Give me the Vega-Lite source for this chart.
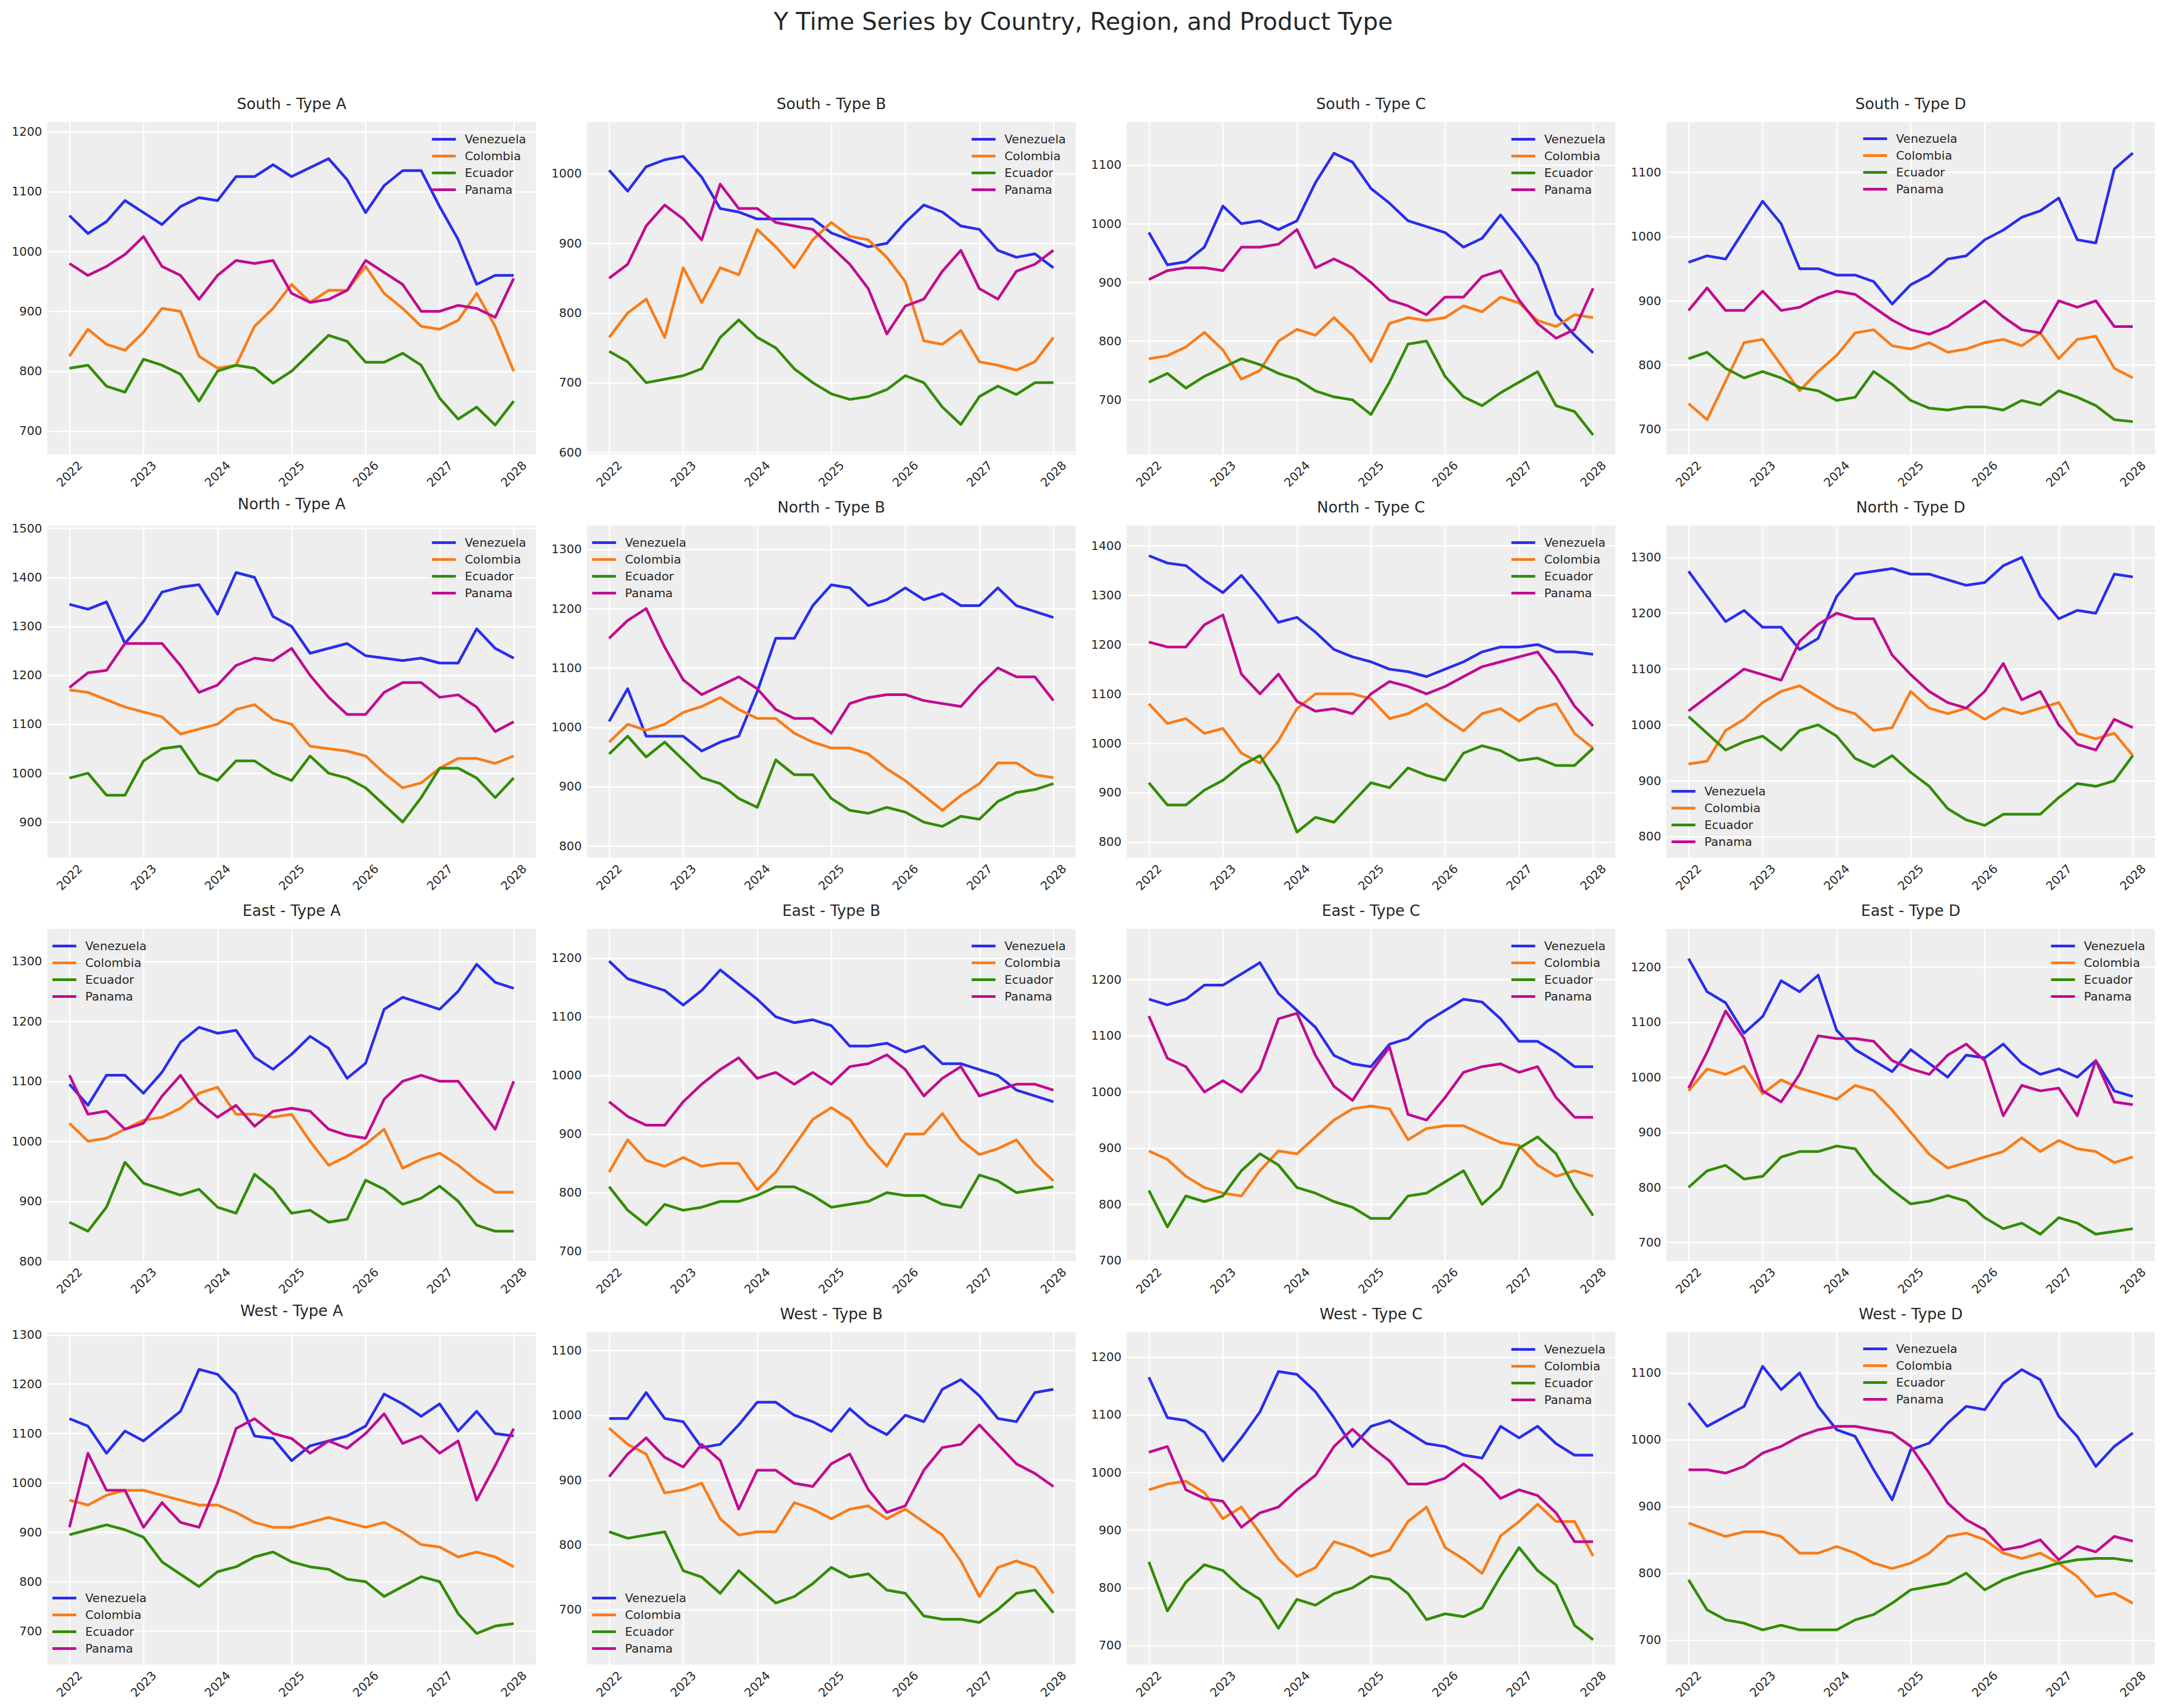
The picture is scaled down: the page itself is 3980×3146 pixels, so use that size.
{
  "$schema": "https://vega.github.io/schema/vega-lite/v6.json",
  "background": "white",
  "padding": {"left": 21, "top": 20, "right": 8, "bottom": 8},
  "title": {"text": "Y Time Series by Country, Region, and Product Type", "fontSize": 44, "fontWeight": "normal", "color": "#262626", "anchor": "middle", "frame": "bounds", "baseline": "alphabetic", "offset": 80, "font": "DejaVu Sans"},
  "columns": 4,
  "bounds": "flush",
  "spacing": {"row": 131, "column": 94},
  "resolve": {"scale": {"y": "independent"}, "legend": {"color": "independent"}},
  "config": {
    "font": "DejaVu Sans",
    "view": {"fill": "#eeeeee", "stroke": null, "continuousWidth": 900, "continuousHeight": 612},
    "axis": {"grid": true, "gridColor": "#ffffff", "gridWidth": 2.5, "domain": false, "ticks": false, "labelFontSize": 22, "labelColor": "#262626", "labelFont": "DejaVu Sans", "title": null, "labelFlush": false, "labelOverlap": false, "labelBound": false},
    "axisX": {"labelAngle": -45, "labelAlign": "center", "labelBaseline": "middle", "labelPadding": 36},
    "axisY": {"labelPadding": 10},
    "title": {"fontSize": 28, "fontWeight": "normal", "color": "#262626", "baseline": "alphabetic", "offset": 18, "frame": "group", "anchor": "middle"},
    "legend": {"labelFontSize": 22, "labelColor": "#262626", "labelFont": "DejaVu Sans", "symbolType": "M-2,0H2", "symbolSize": 484, "symbolStrokeWidth": 5.5, "rowPadding": 6, "labelOffset": 25, "offset": 18, "padding": 0, "labelLimit": 400},
    "line": {"strokeWidth": 5, "strokeJoin": "round"}
  },
  "datasets": {
    "SA": [
      {"c":"V","t":2022,"y":1060},{"c":"V","t":2022.25,"y":1030},{"c":"V","t":2022.5,"y":1050},{"c":"V","t":2022.75,"y":1085},{"c":"V","t":2023,"y":1065},{"c":"V","t":2023.25,"y":1045},{"c":"V","t":2023.5,"y":1075},{"c":"V","t":2023.75,"y":1090},{"c":"V","t":2024,"y":1085},{"c":"V","t":2024.25,"y":1125},{"c":"V","t":2024.5,"y":1125},{"c":"V","t":2024.75,"y":1145},{"c":"V","t":2025,"y":1125},{"c":"V","t":2025.25,"y":1140},{"c":"V","t":2025.5,"y":1155},{"c":"V","t":2025.75,"y":1120},{"c":"V","t":2026,"y":1065},{"c":"V","t":2026.25,"y":1110},{"c":"V","t":2026.5,"y":1135},{"c":"V","t":2026.75,"y":1135},{"c":"V","t":2027,"y":1075},{"c":"V","t":2027.25,"y":1020},{"c":"V","t":2027.5,"y":945},{"c":"V","t":2027.75,"y":960},{"c":"V","t":2028,"y":960},
      {"c":"C","t":2022,"y":825},{"c":"C","t":2022.25,"y":870},{"c":"C","t":2022.5,"y":845},{"c":"C","t":2022.75,"y":835},{"c":"C","t":2023,"y":865},{"c":"C","t":2023.25,"y":905},{"c":"C","t":2023.5,"y":900},{"c":"C","t":2023.75,"y":825},{"c":"C","t":2024,"y":805},{"c":"C","t":2024.25,"y":810},{"c":"C","t":2024.5,"y":875},{"c":"C","t":2024.75,"y":905},{"c":"C","t":2025,"y":945},{"c":"C","t":2025.25,"y":915},{"c":"C","t":2025.5,"y":935},{"c":"C","t":2025.75,"y":935},{"c":"C","t":2026,"y":975},{"c":"C","t":2026.25,"y":930},{"c":"C","t":2026.5,"y":905},{"c":"C","t":2026.75,"y":875},{"c":"C","t":2027,"y":870},{"c":"C","t":2027.25,"y":885},{"c":"C","t":2027.5,"y":930},{"c":"C","t":2027.75,"y":875},{"c":"C","t":2028,"y":800},
      {"c":"E","t":2022,"y":805},{"c":"E","t":2022.25,"y":810},{"c":"E","t":2022.5,"y":775},{"c":"E","t":2022.75,"y":765},{"c":"E","t":2023,"y":820},{"c":"E","t":2023.25,"y":810},{"c":"E","t":2023.5,"y":795},{"c":"E","t":2023.75,"y":750},{"c":"E","t":2024,"y":800},{"c":"E","t":2024.25,"y":810},{"c":"E","t":2024.5,"y":805},{"c":"E","t":2024.75,"y":780},{"c":"E","t":2025,"y":800},{"c":"E","t":2025.25,"y":830},{"c":"E","t":2025.5,"y":860},{"c":"E","t":2025.75,"y":850},{"c":"E","t":2026,"y":815},{"c":"E","t":2026.25,"y":815},{"c":"E","t":2026.5,"y":830},{"c":"E","t":2026.75,"y":810},{"c":"E","t":2027,"y":755},{"c":"E","t":2027.25,"y":720},{"c":"E","t":2027.5,"y":740},{"c":"E","t":2027.75,"y":710},{"c":"E","t":2028,"y":750},
      {"c":"P","t":2022,"y":980},{"c":"P","t":2022.25,"y":960},{"c":"P","t":2022.5,"y":975},{"c":"P","t":2022.75,"y":995},{"c":"P","t":2023,"y":1025},{"c":"P","t":2023.25,"y":975},{"c":"P","t":2023.5,"y":960},{"c":"P","t":2023.75,"y":920},{"c":"P","t":2024,"y":960},{"c":"P","t":2024.25,"y":985},{"c":"P","t":2024.5,"y":980},{"c":"P","t":2024.75,"y":985},{"c":"P","t":2025,"y":930},{"c":"P","t":2025.25,"y":915},{"c":"P","t":2025.5,"y":920},{"c":"P","t":2025.75,"y":935},{"c":"P","t":2026,"y":985},{"c":"P","t":2026.25,"y":965},{"c":"P","t":2026.5,"y":945},{"c":"P","t":2026.75,"y":900},{"c":"P","t":2027,"y":900},{"c":"P","t":2027.25,"y":910},{"c":"P","t":2027.5,"y":905},{"c":"P","t":2027.75,"y":890},{"c":"P","t":2028,"y":955}
    ],
    "SB": [
      {"c":"V","t":2022,"y":1005},{"c":"V","t":2022.25,"y":975},{"c":"V","t":2022.5,"y":1010},{"c":"V","t":2022.75,"y":1020},{"c":"V","t":2023,"y":1025},{"c":"V","t":2023.25,"y":995},{"c":"V","t":2023.5,"y":950},{"c":"V","t":2023.75,"y":945},{"c":"V","t":2024,"y":935},{"c":"V","t":2024.25,"y":935},{"c":"V","t":2024.5,"y":935},{"c":"V","t":2024.75,"y":935},{"c":"V","t":2025,"y":915},{"c":"V","t":2025.25,"y":905},{"c":"V","t":2025.5,"y":895},{"c":"V","t":2025.75,"y":900},{"c":"V","t":2026,"y":930},{"c":"V","t":2026.25,"y":955},{"c":"V","t":2026.5,"y":945},{"c":"V","t":2026.75,"y":925},{"c":"V","t":2027,"y":920},{"c":"V","t":2027.25,"y":890},{"c":"V","t":2027.5,"y":880},{"c":"V","t":2027.75,"y":885},{"c":"V","t":2028,"y":865},
      {"c":"C","t":2022,"y":765},{"c":"C","t":2022.25,"y":800},{"c":"C","t":2022.5,"y":820},{"c":"C","t":2022.75,"y":765},{"c":"C","t":2023,"y":865},{"c":"C","t":2023.25,"y":815},{"c":"C","t":2023.5,"y":865},{"c":"C","t":2023.75,"y":855},{"c":"C","t":2024,"y":920},{"c":"C","t":2024.25,"y":895},{"c":"C","t":2024.5,"y":865},{"c":"C","t":2024.75,"y":905},{"c":"C","t":2025,"y":930},{"c":"C","t":2025.25,"y":910},{"c":"C","t":2025.5,"y":905},{"c":"C","t":2025.75,"y":880},{"c":"C","t":2026,"y":845},{"c":"C","t":2026.25,"y":760},{"c":"C","t":2026.5,"y":755},{"c":"C","t":2026.75,"y":775},{"c":"C","t":2027,"y":730},{"c":"C","t":2027.25,"y":725},{"c":"C","t":2027.5,"y":718},{"c":"C","t":2027.75,"y":730},{"c":"C","t":2028,"y":765},
      {"c":"E","t":2022,"y":745},{"c":"E","t":2022.25,"y":730},{"c":"E","t":2022.5,"y":700},{"c":"E","t":2022.75,"y":705},{"c":"E","t":2023,"y":710},{"c":"E","t":2023.25,"y":720},{"c":"E","t":2023.5,"y":765},{"c":"E","t":2023.75,"y":790},{"c":"E","t":2024,"y":765},{"c":"E","t":2024.25,"y":750},{"c":"E","t":2024.5,"y":720},{"c":"E","t":2024.75,"y":700},{"c":"E","t":2025,"y":684},{"c":"E","t":2025.25,"y":676},{"c":"E","t":2025.5,"y":680},{"c":"E","t":2025.75,"y":690},{"c":"E","t":2026,"y":710},{"c":"E","t":2026.25,"y":700},{"c":"E","t":2026.5,"y":665},{"c":"E","t":2026.75,"y":640},{"c":"E","t":2027,"y":680},{"c":"E","t":2027.25,"y":695},{"c":"E","t":2027.5,"y":683},{"c":"E","t":2027.75,"y":700},{"c":"E","t":2028,"y":700},
      {"c":"P","t":2022,"y":850},{"c":"P","t":2022.25,"y":870},{"c":"P","t":2022.5,"y":925},{"c":"P","t":2022.75,"y":955},{"c":"P","t":2023,"y":935},{"c":"P","t":2023.25,"y":905},{"c":"P","t":2023.5,"y":985},{"c":"P","t":2023.75,"y":950},{"c":"P","t":2024,"y":950},{"c":"P","t":2024.25,"y":930},{"c":"P","t":2024.5,"y":925},{"c":"P","t":2024.75,"y":920},{"c":"P","t":2025,"y":895},{"c":"P","t":2025.25,"y":870},{"c":"P","t":2025.5,"y":835},{"c":"P","t":2025.75,"y":770},{"c":"P","t":2026,"y":810},{"c":"P","t":2026.25,"y":820},{"c":"P","t":2026.5,"y":860},{"c":"P","t":2026.75,"y":890},{"c":"P","t":2027,"y":835},{"c":"P","t":2027.25,"y":820},{"c":"P","t":2027.5,"y":860},{"c":"P","t":2027.75,"y":870},{"c":"P","t":2028,"y":890}
    ],
    "SC": [
      {"c":"V","t":2022,"y":985},{"c":"V","t":2022.25,"y":930},{"c":"V","t":2022.5,"y":935},{"c":"V","t":2022.75,"y":960},{"c":"V","t":2023,"y":1030},{"c":"V","t":2023.25,"y":1000},{"c":"V","t":2023.5,"y":1005},{"c":"V","t":2023.75,"y":990},{"c":"V","t":2024,"y":1005},{"c":"V","t":2024.25,"y":1070},{"c":"V","t":2024.5,"y":1120},{"c":"V","t":2024.75,"y":1105},{"c":"V","t":2025,"y":1060},{"c":"V","t":2025.25,"y":1035},{"c":"V","t":2025.5,"y":1005},{"c":"V","t":2025.75,"y":995},{"c":"V","t":2026,"y":985},{"c":"V","t":2026.25,"y":960},{"c":"V","t":2026.5,"y":975},{"c":"V","t":2026.75,"y":1015},{"c":"V","t":2027,"y":975},{"c":"V","t":2027.25,"y":930},{"c":"V","t":2027.5,"y":845},{"c":"V","t":2027.75,"y":810},{"c":"V","t":2028,"y":780},
      {"c":"C","t":2022,"y":770},{"c":"C","t":2022.25,"y":775},{"c":"C","t":2022.5,"y":790},{"c":"C","t":2022.75,"y":815},{"c":"C","t":2023,"y":785},{"c":"C","t":2023.25,"y":735},{"c":"C","t":2023.5,"y":750},{"c":"C","t":2023.75,"y":800},{"c":"C","t":2024,"y":820},{"c":"C","t":2024.25,"y":810},{"c":"C","t":2024.5,"y":840},{"c":"C","t":2024.75,"y":810},{"c":"C","t":2025,"y":765},{"c":"C","t":2025.25,"y":830},{"c":"C","t":2025.5,"y":840},{"c":"C","t":2025.75,"y":835},{"c":"C","t":2026,"y":840},{"c":"C","t":2026.25,"y":860},{"c":"C","t":2026.5,"y":850},{"c":"C","t":2026.75,"y":875},{"c":"C","t":2027,"y":865},{"c":"C","t":2027.25,"y":835},{"c":"C","t":2027.5,"y":825},{"c":"C","t":2027.75,"y":845},{"c":"C","t":2028,"y":840},
      {"c":"E","t":2022,"y":730},{"c":"E","t":2022.25,"y":745},{"c":"E","t":2022.5,"y":720},{"c":"E","t":2022.75,"y":740},{"c":"E","t":2023,"y":755},{"c":"E","t":2023.25,"y":770},{"c":"E","t":2023.5,"y":760},{"c":"E","t":2023.75,"y":745},{"c":"E","t":2024,"y":735},{"c":"E","t":2024.25,"y":715},{"c":"E","t":2024.5,"y":705},{"c":"E","t":2024.75,"y":700},{"c":"E","t":2025,"y":675},{"c":"E","t":2025.25,"y":730},{"c":"E","t":2025.5,"y":795},{"c":"E","t":2025.75,"y":800},{"c":"E","t":2026,"y":740},{"c":"E","t":2026.25,"y":705},{"c":"E","t":2026.5,"y":690},{"c":"E","t":2026.75,"y":712},{"c":"E","t":2027,"y":730},{"c":"E","t":2027.25,"y":748},{"c":"E","t":2027.5,"y":690},{"c":"E","t":2027.75,"y":680},{"c":"E","t":2028,"y":640},
      {"c":"P","t":2022,"y":905},{"c":"P","t":2022.25,"y":920},{"c":"P","t":2022.5,"y":925},{"c":"P","t":2022.75,"y":925},{"c":"P","t":2023,"y":920},{"c":"P","t":2023.25,"y":960},{"c":"P","t":2023.5,"y":960},{"c":"P","t":2023.75,"y":965},{"c":"P","t":2024,"y":990},{"c":"P","t":2024.25,"y":925},{"c":"P","t":2024.5,"y":940},{"c":"P","t":2024.75,"y":925},{"c":"P","t":2025,"y":900},{"c":"P","t":2025.25,"y":870},{"c":"P","t":2025.5,"y":860},{"c":"P","t":2025.75,"y":845},{"c":"P","t":2026,"y":875},{"c":"P","t":2026.25,"y":875},{"c":"P","t":2026.5,"y":910},{"c":"P","t":2026.75,"y":920},{"c":"P","t":2027,"y":870},{"c":"P","t":2027.25,"y":830},{"c":"P","t":2027.5,"y":805},{"c":"P","t":2027.75,"y":820},{"c":"P","t":2028,"y":890}
    ],
    "SD": [
      {"c":"V","t":2022,"y":960},{"c":"V","t":2022.25,"y":970},{"c":"V","t":2022.5,"y":965},{"c":"V","t":2022.75,"y":1010},{"c":"V","t":2023,"y":1055},{"c":"V","t":2023.25,"y":1020},{"c":"V","t":2023.5,"y":950},{"c":"V","t":2023.75,"y":950},{"c":"V","t":2024,"y":940},{"c":"V","t":2024.25,"y":940},{"c":"V","t":2024.5,"y":930},{"c":"V","t":2024.75,"y":895},{"c":"V","t":2025,"y":925},{"c":"V","t":2025.25,"y":940},{"c":"V","t":2025.5,"y":965},{"c":"V","t":2025.75,"y":970},{"c":"V","t":2026,"y":995},{"c":"V","t":2026.25,"y":1010},{"c":"V","t":2026.5,"y":1030},{"c":"V","t":2026.75,"y":1040},{"c":"V","t":2027,"y":1060},{"c":"V","t":2027.25,"y":995},{"c":"V","t":2027.5,"y":990},{"c":"V","t":2027.75,"y":1105},{"c":"V","t":2028,"y":1130},
      {"c":"C","t":2022,"y":740},{"c":"C","t":2022.25,"y":715},{"c":"C","t":2022.5,"y":775},{"c":"C","t":2022.75,"y":835},{"c":"C","t":2023,"y":840},{"c":"C","t":2023.25,"y":800},{"c":"C","t":2023.5,"y":760},{"c":"C","t":2023.75,"y":790},{"c":"C","t":2024,"y":815},{"c":"C","t":2024.25,"y":850},{"c":"C","t":2024.5,"y":855},{"c":"C","t":2024.75,"y":830},{"c":"C","t":2025,"y":825},{"c":"C","t":2025.25,"y":835},{"c":"C","t":2025.5,"y":820},{"c":"C","t":2025.75,"y":825},{"c":"C","t":2026,"y":835},{"c":"C","t":2026.25,"y":840},{"c":"C","t":2026.5,"y":830},{"c":"C","t":2026.75,"y":850},{"c":"C","t":2027,"y":810},{"c":"C","t":2027.25,"y":840},{"c":"C","t":2027.5,"y":845},{"c":"C","t":2027.75,"y":795},{"c":"C","t":2028,"y":780},
      {"c":"E","t":2022,"y":810},{"c":"E","t":2022.25,"y":820},{"c":"E","t":2022.5,"y":795},{"c":"E","t":2022.75,"y":780},{"c":"E","t":2023,"y":790},{"c":"E","t":2023.25,"y":780},{"c":"E","t":2023.5,"y":765},{"c":"E","t":2023.75,"y":760},{"c":"E","t":2024,"y":745},{"c":"E","t":2024.25,"y":750},{"c":"E","t":2024.5,"y":790},{"c":"E","t":2024.75,"y":770},{"c":"E","t":2025,"y":745},{"c":"E","t":2025.25,"y":733},{"c":"E","t":2025.5,"y":730},{"c":"E","t":2025.75,"y":735},{"c":"E","t":2026,"y":735},{"c":"E","t":2026.25,"y":730},{"c":"E","t":2026.5,"y":745},{"c":"E","t":2026.75,"y":738},{"c":"E","t":2027,"y":760},{"c":"E","t":2027.25,"y":750},{"c":"E","t":2027.5,"y":737},{"c":"E","t":2027.75,"y":715},{"c":"E","t":2028,"y":712},
      {"c":"P","t":2022,"y":885},{"c":"P","t":2022.25,"y":920},{"c":"P","t":2022.5,"y":885},{"c":"P","t":2022.75,"y":885},{"c":"P","t":2023,"y":915},{"c":"P","t":2023.25,"y":885},{"c":"P","t":2023.5,"y":890},{"c":"P","t":2023.75,"y":905},{"c":"P","t":2024,"y":915},{"c":"P","t":2024.25,"y":910},{"c":"P","t":2024.5,"y":890},{"c":"P","t":2024.75,"y":870},{"c":"P","t":2025,"y":855},{"c":"P","t":2025.25,"y":848},{"c":"P","t":2025.5,"y":860},{"c":"P","t":2025.75,"y":880},{"c":"P","t":2026,"y":900},{"c":"P","t":2026.25,"y":875},{"c":"P","t":2026.5,"y":855},{"c":"P","t":2026.75,"y":850},{"c":"P","t":2027,"y":900},{"c":"P","t":2027.25,"y":890},{"c":"P","t":2027.5,"y":900},{"c":"P","t":2027.75,"y":860},{"c":"P","t":2028,"y":860}
    ],
    "NA": [
      {"c":"V","t":2022,"y":1345},{"c":"V","t":2022.25,"y":1335},{"c":"V","t":2022.5,"y":1350},{"c":"V","t":2022.75,"y":1265},{"c":"V","t":2023,"y":1310},{"c":"V","t":2023.25,"y":1370},{"c":"V","t":2023.5,"y":1380},{"c":"V","t":2023.75,"y":1385},{"c":"V","t":2024,"y":1325},{"c":"V","t":2024.25,"y":1410},{"c":"V","t":2024.5,"y":1400},{"c":"V","t":2024.75,"y":1320},{"c":"V","t":2025,"y":1300},{"c":"V","t":2025.25,"y":1245},{"c":"V","t":2025.5,"y":1255},{"c":"V","t":2025.75,"y":1265},{"c":"V","t":2026,"y":1240},{"c":"V","t":2026.25,"y":1235},{"c":"V","t":2026.5,"y":1230},{"c":"V","t":2026.75,"y":1235},{"c":"V","t":2027,"y":1225},{"c":"V","t":2027.25,"y":1225},{"c":"V","t":2027.5,"y":1295},{"c":"V","t":2027.75,"y":1255},{"c":"V","t":2028,"y":1235},
      {"c":"C","t":2022,"y":1170},{"c":"C","t":2022.25,"y":1165},{"c":"C","t":2022.5,"y":1150},{"c":"C","t":2022.75,"y":1135},{"c":"C","t":2023,"y":1125},{"c":"C","t":2023.25,"y":1115},{"c":"C","t":2023.5,"y":1080},{"c":"C","t":2023.75,"y":1090},{"c":"C","t":2024,"y":1100},{"c":"C","t":2024.25,"y":1130},{"c":"C","t":2024.5,"y":1140},{"c":"C","t":2024.75,"y":1110},{"c":"C","t":2025,"y":1100},{"c":"C","t":2025.25,"y":1055},{"c":"C","t":2025.5,"y":1050},{"c":"C","t":2025.75,"y":1045},{"c":"C","t":2026,"y":1035},{"c":"C","t":2026.25,"y":1000},{"c":"C","t":2026.5,"y":970},{"c":"C","t":2026.75,"y":980},{"c":"C","t":2027,"y":1010},{"c":"C","t":2027.25,"y":1030},{"c":"C","t":2027.5,"y":1030},{"c":"C","t":2027.75,"y":1020},{"c":"C","t":2028,"y":1035},
      {"c":"E","t":2022,"y":990},{"c":"E","t":2022.25,"y":1000},{"c":"E","t":2022.5,"y":955},{"c":"E","t":2022.75,"y":955},{"c":"E","t":2023,"y":1025},{"c":"E","t":2023.25,"y":1050},{"c":"E","t":2023.5,"y":1055},{"c":"E","t":2023.75,"y":1000},{"c":"E","t":2024,"y":985},{"c":"E","t":2024.25,"y":1025},{"c":"E","t":2024.5,"y":1025},{"c":"E","t":2024.75,"y":1000},{"c":"E","t":2025,"y":985},{"c":"E","t":2025.25,"y":1035},{"c":"E","t":2025.5,"y":1000},{"c":"E","t":2025.75,"y":990},{"c":"E","t":2026,"y":970},{"c":"E","t":2026.25,"y":935},{"c":"E","t":2026.5,"y":900},{"c":"E","t":2026.75,"y":950},{"c":"E","t":2027,"y":1010},{"c":"E","t":2027.25,"y":1010},{"c":"E","t":2027.5,"y":990},{"c":"E","t":2027.75,"y":950},{"c":"E","t":2028,"y":990},
      {"c":"P","t":2022,"y":1175},{"c":"P","t":2022.25,"y":1205},{"c":"P","t":2022.5,"y":1210},{"c":"P","t":2022.75,"y":1265},{"c":"P","t":2023,"y":1265},{"c":"P","t":2023.25,"y":1265},{"c":"P","t":2023.5,"y":1220},{"c":"P","t":2023.75,"y":1165},{"c":"P","t":2024,"y":1180},{"c":"P","t":2024.25,"y":1220},{"c":"P","t":2024.5,"y":1235},{"c":"P","t":2024.75,"y":1230},{"c":"P","t":2025,"y":1255},{"c":"P","t":2025.25,"y":1200},{"c":"P","t":2025.5,"y":1155},{"c":"P","t":2025.75,"y":1120},{"c":"P","t":2026,"y":1120},{"c":"P","t":2026.25,"y":1165},{"c":"P","t":2026.5,"y":1185},{"c":"P","t":2026.75,"y":1185},{"c":"P","t":2027,"y":1155},{"c":"P","t":2027.25,"y":1160},{"c":"P","t":2027.5,"y":1135},{"c":"P","t":2027.75,"y":1085},{"c":"P","t":2028,"y":1105}
    ],
    "NB": [
      {"c":"V","t":2022,"y":1010},{"c":"V","t":2022.25,"y":1065},{"c":"V","t":2022.5,"y":985},{"c":"V","t":2022.75,"y":985},{"c":"V","t":2023,"y":985},{"c":"V","t":2023.25,"y":960},{"c":"V","t":2023.5,"y":975},{"c":"V","t":2023.75,"y":985},{"c":"V","t":2024,"y":1060},{"c":"V","t":2024.25,"y":1150},{"c":"V","t":2024.5,"y":1150},{"c":"V","t":2024.75,"y":1205},{"c":"V","t":2025,"y":1240},{"c":"V","t":2025.25,"y":1235},{"c":"V","t":2025.5,"y":1205},{"c":"V","t":2025.75,"y":1215},{"c":"V","t":2026,"y":1235},{"c":"V","t":2026.25,"y":1215},{"c":"V","t":2026.5,"y":1225},{"c":"V","t":2026.75,"y":1205},{"c":"V","t":2027,"y":1205},{"c":"V","t":2027.25,"y":1235},{"c":"V","t":2027.5,"y":1205},{"c":"V","t":2027.75,"y":1195},{"c":"V","t":2028,"y":1185},
      {"c":"C","t":2022,"y":975},{"c":"C","t":2022.25,"y":1005},{"c":"C","t":2022.5,"y":995},{"c":"C","t":2022.75,"y":1005},{"c":"C","t":2023,"y":1025},{"c":"C","t":2023.25,"y":1035},{"c":"C","t":2023.5,"y":1050},{"c":"C","t":2023.75,"y":1030},{"c":"C","t":2024,"y":1015},{"c":"C","t":2024.25,"y":1015},{"c":"C","t":2024.5,"y":990},{"c":"C","t":2024.75,"y":975},{"c":"C","t":2025,"y":965},{"c":"C","t":2025.25,"y":965},{"c":"C","t":2025.5,"y":955},{"c":"C","t":2025.75,"y":930},{"c":"C","t":2026,"y":910},{"c":"C","t":2026.25,"y":885},{"c":"C","t":2026.5,"y":860},{"c":"C","t":2026.75,"y":885},{"c":"C","t":2027,"y":905},{"c":"C","t":2027.25,"y":940},{"c":"C","t":2027.5,"y":940},{"c":"C","t":2027.75,"y":920},{"c":"C","t":2028,"y":915},
      {"c":"E","t":2022,"y":955},{"c":"E","t":2022.25,"y":985},{"c":"E","t":2022.5,"y":950},{"c":"E","t":2022.75,"y":975},{"c":"E","t":2023,"y":945},{"c":"E","t":2023.25,"y":915},{"c":"E","t":2023.5,"y":905},{"c":"E","t":2023.75,"y":880},{"c":"E","t":2024,"y":865},{"c":"E","t":2024.25,"y":945},{"c":"E","t":2024.5,"y":920},{"c":"E","t":2024.75,"y":920},{"c":"E","t":2025,"y":880},{"c":"E","t":2025.25,"y":860},{"c":"E","t":2025.5,"y":855},{"c":"E","t":2025.75,"y":865},{"c":"E","t":2026,"y":857},{"c":"E","t":2026.25,"y":840},{"c":"E","t":2026.5,"y":833},{"c":"E","t":2026.75,"y":850},{"c":"E","t":2027,"y":845},{"c":"E","t":2027.25,"y":875},{"c":"E","t":2027.5,"y":890},{"c":"E","t":2027.75,"y":895},{"c":"E","t":2028,"y":905},
      {"c":"P","t":2022,"y":1150},{"c":"P","t":2022.25,"y":1180},{"c":"P","t":2022.5,"y":1200},{"c":"P","t":2022.75,"y":1135},{"c":"P","t":2023,"y":1080},{"c":"P","t":2023.25,"y":1055},{"c":"P","t":2023.5,"y":1070},{"c":"P","t":2023.75,"y":1085},{"c":"P","t":2024,"y":1065},{"c":"P","t":2024.25,"y":1030},{"c":"P","t":2024.5,"y":1015},{"c":"P","t":2024.75,"y":1015},{"c":"P","t":2025,"y":990},{"c":"P","t":2025.25,"y":1040},{"c":"P","t":2025.5,"y":1050},{"c":"P","t":2025.75,"y":1055},{"c":"P","t":2026,"y":1055},{"c":"P","t":2026.25,"y":1045},{"c":"P","t":2026.5,"y":1040},{"c":"P","t":2026.75,"y":1035},{"c":"P","t":2027,"y":1070},{"c":"P","t":2027.25,"y":1100},{"c":"P","t":2027.5,"y":1085},{"c":"P","t":2027.75,"y":1085},{"c":"P","t":2028,"y":1045}
    ],
    "NC": [
      {"c":"V","t":2022,"y":1380},{"c":"V","t":2022.25,"y":1365},{"c":"V","t":2022.5,"y":1360},{"c":"V","t":2022.75,"y":1330},{"c":"V","t":2023,"y":1305},{"c":"V","t":2023.25,"y":1340},{"c":"V","t":2023.5,"y":1295},{"c":"V","t":2023.75,"y":1245},{"c":"V","t":2024,"y":1255},{"c":"V","t":2024.25,"y":1225},{"c":"V","t":2024.5,"y":1190},{"c":"V","t":2024.75,"y":1175},{"c":"V","t":2025,"y":1165},{"c":"V","t":2025.25,"y":1150},{"c":"V","t":2025.5,"y":1145},{"c":"V","t":2025.75,"y":1135},{"c":"V","t":2026,"y":1150},{"c":"V","t":2026.25,"y":1165},{"c":"V","t":2026.5,"y":1185},{"c":"V","t":2026.75,"y":1195},{"c":"V","t":2027,"y":1195},{"c":"V","t":2027.25,"y":1200},{"c":"V","t":2027.5,"y":1185},{"c":"V","t":2027.75,"y":1185},{"c":"V","t":2028,"y":1180},
      {"c":"C","t":2022,"y":1080},{"c":"C","t":2022.25,"y":1040},{"c":"C","t":2022.5,"y":1050},{"c":"C","t":2022.75,"y":1020},{"c":"C","t":2023,"y":1030},{"c":"C","t":2023.25,"y":980},{"c":"C","t":2023.5,"y":960},{"c":"C","t":2023.75,"y":1005},{"c":"C","t":2024,"y":1070},{"c":"C","t":2024.25,"y":1100},{"c":"C","t":2024.5,"y":1100},{"c":"C","t":2024.75,"y":1100},{"c":"C","t":2025,"y":1090},{"c":"C","t":2025.25,"y":1050},{"c":"C","t":2025.5,"y":1060},{"c":"C","t":2025.75,"y":1080},{"c":"C","t":2026,"y":1050},{"c":"C","t":2026.25,"y":1025},{"c":"C","t":2026.5,"y":1060},{"c":"C","t":2026.75,"y":1070},{"c":"C","t":2027,"y":1045},{"c":"C","t":2027.25,"y":1070},{"c":"C","t":2027.5,"y":1080},{"c":"C","t":2027.75,"y":1020},{"c":"C","t":2028,"y":990},
      {"c":"E","t":2022,"y":920},{"c":"E","t":2022.25,"y":875},{"c":"E","t":2022.5,"y":875},{"c":"E","t":2022.75,"y":905},{"c":"E","t":2023,"y":925},{"c":"E","t":2023.25,"y":955},{"c":"E","t":2023.5,"y":975},{"c":"E","t":2023.75,"y":915},{"c":"E","t":2024,"y":820},{"c":"E","t":2024.25,"y":850},{"c":"E","t":2024.5,"y":840},{"c":"E","t":2024.75,"y":880},{"c":"E","t":2025,"y":920},{"c":"E","t":2025.25,"y":910},{"c":"E","t":2025.5,"y":950},{"c":"E","t":2025.75,"y":935},{"c":"E","t":2026,"y":925},{"c":"E","t":2026.25,"y":980},{"c":"E","t":2026.5,"y":995},{"c":"E","t":2026.75,"y":985},{"c":"E","t":2027,"y":965},{"c":"E","t":2027.25,"y":970},{"c":"E","t":2027.5,"y":955},{"c":"E","t":2027.75,"y":955},{"c":"E","t":2028,"y":990},
      {"c":"P","t":2022,"y":1205},{"c":"P","t":2022.25,"y":1195},{"c":"P","t":2022.5,"y":1195},{"c":"P","t":2022.75,"y":1240},{"c":"P","t":2023,"y":1260},{"c":"P","t":2023.25,"y":1140},{"c":"P","t":2023.5,"y":1100},{"c":"P","t":2023.75,"y":1140},{"c":"P","t":2024,"y":1085},{"c":"P","t":2024.25,"y":1065},{"c":"P","t":2024.5,"y":1070},{"c":"P","t":2024.75,"y":1060},{"c":"P","t":2025,"y":1100},{"c":"P","t":2025.25,"y":1125},{"c":"P","t":2025.5,"y":1115},{"c":"P","t":2025.75,"y":1100},{"c":"P","t":2026,"y":1115},{"c":"P","t":2026.25,"y":1135},{"c":"P","t":2026.5,"y":1155},{"c":"P","t":2026.75,"y":1165},{"c":"P","t":2027,"y":1175},{"c":"P","t":2027.25,"y":1185},{"c":"P","t":2027.5,"y":1135},{"c":"P","t":2027.75,"y":1075},{"c":"P","t":2028,"y":1035}
    ],
    "ND": [
      {"c":"V","t":2022,"y":1275},{"c":"V","t":2022.25,"y":1230},{"c":"V","t":2022.5,"y":1185},{"c":"V","t":2022.75,"y":1205},{"c":"V","t":2023,"y":1175},{"c":"V","t":2023.25,"y":1175},{"c":"V","t":2023.5,"y":1135},{"c":"V","t":2023.75,"y":1155},{"c":"V","t":2024,"y":1230},{"c":"V","t":2024.25,"y":1270},{"c":"V","t":2024.5,"y":1275},{"c":"V","t":2024.75,"y":1280},{"c":"V","t":2025,"y":1270},{"c":"V","t":2025.25,"y":1270},{"c":"V","t":2025.5,"y":1260},{"c":"V","t":2025.75,"y":1250},{"c":"V","t":2026,"y":1255},{"c":"V","t":2026.25,"y":1285},{"c":"V","t":2026.5,"y":1300},{"c":"V","t":2026.75,"y":1230},{"c":"V","t":2027,"y":1190},{"c":"V","t":2027.25,"y":1205},{"c":"V","t":2027.5,"y":1200},{"c":"V","t":2027.75,"y":1270},{"c":"V","t":2028,"y":1265},
      {"c":"C","t":2022,"y":930},{"c":"C","t":2022.25,"y":935},{"c":"C","t":2022.5,"y":990},{"c":"C","t":2022.75,"y":1010},{"c":"C","t":2023,"y":1040},{"c":"C","t":2023.25,"y":1060},{"c":"C","t":2023.5,"y":1070},{"c":"C","t":2023.75,"y":1050},{"c":"C","t":2024,"y":1030},{"c":"C","t":2024.25,"y":1020},{"c":"C","t":2024.5,"y":990},{"c":"C","t":2024.75,"y":995},{"c":"C","t":2025,"y":1060},{"c":"C","t":2025.25,"y":1030},{"c":"C","t":2025.5,"y":1020},{"c":"C","t":2025.75,"y":1030},{"c":"C","t":2026,"y":1010},{"c":"C","t":2026.25,"y":1030},{"c":"C","t":2026.5,"y":1020},{"c":"C","t":2026.75,"y":1030},{"c":"C","t":2027,"y":1040},{"c":"C","t":2027.25,"y":985},{"c":"C","t":2027.5,"y":975},{"c":"C","t":2027.75,"y":985},{"c":"C","t":2028,"y":945},
      {"c":"E","t":2022,"y":1015},{"c":"E","t":2022.25,"y":985},{"c":"E","t":2022.5,"y":955},{"c":"E","t":2022.75,"y":970},{"c":"E","t":2023,"y":980},{"c":"E","t":2023.25,"y":955},{"c":"E","t":2023.5,"y":990},{"c":"E","t":2023.75,"y":1000},{"c":"E","t":2024,"y":980},{"c":"E","t":2024.25,"y":940},{"c":"E","t":2024.5,"y":925},{"c":"E","t":2024.75,"y":945},{"c":"E","t":2025,"y":915},{"c":"E","t":2025.25,"y":890},{"c":"E","t":2025.5,"y":850},{"c":"E","t":2025.75,"y":830},{"c":"E","t":2026,"y":820},{"c":"E","t":2026.25,"y":840},{"c":"E","t":2026.5,"y":840},{"c":"E","t":2026.75,"y":840},{"c":"E","t":2027,"y":870},{"c":"E","t":2027.25,"y":895},{"c":"E","t":2027.5,"y":890},{"c":"E","t":2027.75,"y":900},{"c":"E","t":2028,"y":945},
      {"c":"P","t":2022,"y":1025},{"c":"P","t":2022.25,"y":1050},{"c":"P","t":2022.5,"y":1075},{"c":"P","t":2022.75,"y":1100},{"c":"P","t":2023,"y":1090},{"c":"P","t":2023.25,"y":1080},{"c":"P","t":2023.5,"y":1150},{"c":"P","t":2023.75,"y":1180},{"c":"P","t":2024,"y":1200},{"c":"P","t":2024.25,"y":1190},{"c":"P","t":2024.5,"y":1190},{"c":"P","t":2024.75,"y":1125},{"c":"P","t":2025,"y":1090},{"c":"P","t":2025.25,"y":1060},{"c":"P","t":2025.5,"y":1040},{"c":"P","t":2025.75,"y":1030},{"c":"P","t":2026,"y":1060},{"c":"P","t":2026.25,"y":1110},{"c":"P","t":2026.5,"y":1045},{"c":"P","t":2026.75,"y":1060},{"c":"P","t":2027,"y":1000},{"c":"P","t":2027.25,"y":965},{"c":"P","t":2027.5,"y":955},{"c":"P","t":2027.75,"y":1010},{"c":"P","t":2028,"y":995}
    ],
    "EA": [
      {"c":"V","t":2022,"y":1095},{"c":"V","t":2022.25,"y":1060},{"c":"V","t":2022.5,"y":1110},{"c":"V","t":2022.75,"y":1110},{"c":"V","t":2023,"y":1080},{"c":"V","t":2023.25,"y":1115},{"c":"V","t":2023.5,"y":1165},{"c":"V","t":2023.75,"y":1190},{"c":"V","t":2024,"y":1180},{"c":"V","t":2024.25,"y":1185},{"c":"V","t":2024.5,"y":1140},{"c":"V","t":2024.75,"y":1120},{"c":"V","t":2025,"y":1145},{"c":"V","t":2025.25,"y":1175},{"c":"V","t":2025.5,"y":1155},{"c":"V","t":2025.75,"y":1105},{"c":"V","t":2026,"y":1130},{"c":"V","t":2026.25,"y":1220},{"c":"V","t":2026.5,"y":1240},{"c":"V","t":2026.75,"y":1230},{"c":"V","t":2027,"y":1220},{"c":"V","t":2027.25,"y":1250},{"c":"V","t":2027.5,"y":1295},{"c":"V","t":2027.75,"y":1265},{"c":"V","t":2028,"y":1255},
      {"c":"C","t":2022,"y":1030},{"c":"C","t":2022.25,"y":1000},{"c":"C","t":2022.5,"y":1005},{"c":"C","t":2022.75,"y":1020},{"c":"C","t":2023,"y":1035},{"c":"C","t":2023.25,"y":1040},{"c":"C","t":2023.5,"y":1055},{"c":"C","t":2023.75,"y":1080},{"c":"C","t":2024,"y":1090},{"c":"C","t":2024.25,"y":1045},{"c":"C","t":2024.5,"y":1045},{"c":"C","t":2024.75,"y":1040},{"c":"C","t":2025,"y":1045},{"c":"C","t":2025.25,"y":1000},{"c":"C","t":2025.5,"y":960},{"c":"C","t":2025.75,"y":975},{"c":"C","t":2026,"y":995},{"c":"C","t":2026.25,"y":1020},{"c":"C","t":2026.5,"y":955},{"c":"C","t":2026.75,"y":970},{"c":"C","t":2027,"y":980},{"c":"C","t":2027.25,"y":960},{"c":"C","t":2027.5,"y":935},{"c":"C","t":2027.75,"y":915},{"c":"C","t":2028,"y":915},
      {"c":"E","t":2022,"y":865},{"c":"E","t":2022.25,"y":850},{"c":"E","t":2022.5,"y":890},{"c":"E","t":2022.75,"y":965},{"c":"E","t":2023,"y":930},{"c":"E","t":2023.25,"y":920},{"c":"E","t":2023.5,"y":910},{"c":"E","t":2023.75,"y":920},{"c":"E","t":2024,"y":890},{"c":"E","t":2024.25,"y":880},{"c":"E","t":2024.5,"y":945},{"c":"E","t":2024.75,"y":920},{"c":"E","t":2025,"y":880},{"c":"E","t":2025.25,"y":885},{"c":"E","t":2025.5,"y":865},{"c":"E","t":2025.75,"y":870},{"c":"E","t":2026,"y":935},{"c":"E","t":2026.25,"y":920},{"c":"E","t":2026.5,"y":895},{"c":"E","t":2026.75,"y":905},{"c":"E","t":2027,"y":925},{"c":"E","t":2027.25,"y":900},{"c":"E","t":2027.5,"y":860},{"c":"E","t":2027.75,"y":850},{"c":"E","t":2028,"y":850},
      {"c":"P","t":2022,"y":1110},{"c":"P","t":2022.25,"y":1045},{"c":"P","t":2022.5,"y":1050},{"c":"P","t":2022.75,"y":1020},{"c":"P","t":2023,"y":1030},{"c":"P","t":2023.25,"y":1075},{"c":"P","t":2023.5,"y":1110},{"c":"P","t":2023.75,"y":1065},{"c":"P","t":2024,"y":1040},{"c":"P","t":2024.25,"y":1060},{"c":"P","t":2024.5,"y":1025},{"c":"P","t":2024.75,"y":1050},{"c":"P","t":2025,"y":1055},{"c":"P","t":2025.25,"y":1050},{"c":"P","t":2025.5,"y":1020},{"c":"P","t":2025.75,"y":1010},{"c":"P","t":2026,"y":1005},{"c":"P","t":2026.25,"y":1070},{"c":"P","t":2026.5,"y":1100},{"c":"P","t":2026.75,"y":1110},{"c":"P","t":2027,"y":1100},{"c":"P","t":2027.25,"y":1100},{"c":"P","t":2027.5,"y":1060},{"c":"P","t":2027.75,"y":1020},{"c":"P","t":2028,"y":1100}
    ],
    "EB": [
      {"c":"V","t":2022,"y":1195},{"c":"V","t":2022.25,"y":1165},{"c":"V","t":2022.5,"y":1155},{"c":"V","t":2022.75,"y":1145},{"c":"V","t":2023,"y":1120},{"c":"V","t":2023.25,"y":1145},{"c":"V","t":2023.5,"y":1180},{"c":"V","t":2023.75,"y":1155},{"c":"V","t":2024,"y":1130},{"c":"V","t":2024.25,"y":1100},{"c":"V","t":2024.5,"y":1090},{"c":"V","t":2024.75,"y":1095},{"c":"V","t":2025,"y":1085},{"c":"V","t":2025.25,"y":1050},{"c":"V","t":2025.5,"y":1050},{"c":"V","t":2025.75,"y":1055},{"c":"V","t":2026,"y":1040},{"c":"V","t":2026.25,"y":1050},{"c":"V","t":2026.5,"y":1020},{"c":"V","t":2026.75,"y":1020},{"c":"V","t":2027,"y":1010},{"c":"V","t":2027.25,"y":1000},{"c":"V","t":2027.5,"y":975},{"c":"V","t":2027.75,"y":965},{"c":"V","t":2028,"y":955},
      {"c":"C","t":2022,"y":835},{"c":"C","t":2022.25,"y":890},{"c":"C","t":2022.5,"y":855},{"c":"C","t":2022.75,"y":845},{"c":"C","t":2023,"y":860},{"c":"C","t":2023.25,"y":845},{"c":"C","t":2023.5,"y":850},{"c":"C","t":2023.75,"y":850},{"c":"C","t":2024,"y":805},{"c":"C","t":2024.25,"y":835},{"c":"C","t":2024.5,"y":880},{"c":"C","t":2024.75,"y":925},{"c":"C","t":2025,"y":945},{"c":"C","t":2025.25,"y":925},{"c":"C","t":2025.5,"y":880},{"c":"C","t":2025.75,"y":845},{"c":"C","t":2026,"y":900},{"c":"C","t":2026.25,"y":900},{"c":"C","t":2026.5,"y":935},{"c":"C","t":2026.75,"y":890},{"c":"C","t":2027,"y":865},{"c":"C","t":2027.25,"y":875},{"c":"C","t":2027.5,"y":890},{"c":"C","t":2027.75,"y":850},{"c":"C","t":2028,"y":820},
      {"c":"E","t":2022,"y":810},{"c":"E","t":2022.25,"y":770},{"c":"E","t":2022.5,"y":745},{"c":"E","t":2022.75,"y":780},{"c":"E","t":2023,"y":770},{"c":"E","t":2023.25,"y":775},{"c":"E","t":2023.5,"y":785},{"c":"E","t":2023.75,"y":785},{"c":"E","t":2024,"y":795},{"c":"E","t":2024.25,"y":810},{"c":"E","t":2024.5,"y":810},{"c":"E","t":2024.75,"y":795},{"c":"E","t":2025,"y":775},{"c":"E","t":2025.25,"y":780},{"c":"E","t":2025.5,"y":785},{"c":"E","t":2025.75,"y":800},{"c":"E","t":2026,"y":795},{"c":"E","t":2026.25,"y":795},{"c":"E","t":2026.5,"y":780},{"c":"E","t":2026.75,"y":775},{"c":"E","t":2027,"y":830},{"c":"E","t":2027.25,"y":820},{"c":"E","t":2027.5,"y":800},{"c":"E","t":2027.75,"y":805},{"c":"E","t":2028,"y":810},
      {"c":"P","t":2022,"y":955},{"c":"P","t":2022.25,"y":930},{"c":"P","t":2022.5,"y":915},{"c":"P","t":2022.75,"y":915},{"c":"P","t":2023,"y":955},{"c":"P","t":2023.25,"y":985},{"c":"P","t":2023.5,"y":1010},{"c":"P","t":2023.75,"y":1030},{"c":"P","t":2024,"y":995},{"c":"P","t":2024.25,"y":1005},{"c":"P","t":2024.5,"y":985},{"c":"P","t":2024.75,"y":1005},{"c":"P","t":2025,"y":985},{"c":"P","t":2025.25,"y":1015},{"c":"P","t":2025.5,"y":1020},{"c":"P","t":2025.75,"y":1035},{"c":"P","t":2026,"y":1010},{"c":"P","t":2026.25,"y":965},{"c":"P","t":2026.5,"y":995},{"c":"P","t":2026.75,"y":1015},{"c":"P","t":2027,"y":965},{"c":"P","t":2027.25,"y":975},{"c":"P","t":2027.5,"y":985},{"c":"P","t":2027.75,"y":985},{"c":"P","t":2028,"y":975}
    ],
    "EC": [
      {"c":"V","t":2022,"y":1165},{"c":"V","t":2022.25,"y":1155},{"c":"V","t":2022.5,"y":1165},{"c":"V","t":2022.75,"y":1190},{"c":"V","t":2023,"y":1190},{"c":"V","t":2023.25,"y":1210},{"c":"V","t":2023.5,"y":1230},{"c":"V","t":2023.75,"y":1175},{"c":"V","t":2024,"y":1145},{"c":"V","t":2024.25,"y":1115},{"c":"V","t":2024.5,"y":1065},{"c":"V","t":2024.75,"y":1050},{"c":"V","t":2025,"y":1045},{"c":"V","t":2025.25,"y":1085},{"c":"V","t":2025.5,"y":1095},{"c":"V","t":2025.75,"y":1125},{"c":"V","t":2026,"y":1145},{"c":"V","t":2026.25,"y":1165},{"c":"V","t":2026.5,"y":1160},{"c":"V","t":2026.75,"y":1130},{"c":"V","t":2027,"y":1090},{"c":"V","t":2027.25,"y":1090},{"c":"V","t":2027.5,"y":1070},{"c":"V","t":2027.75,"y":1045},{"c":"V","t":2028,"y":1045},
      {"c":"C","t":2022,"y":895},{"c":"C","t":2022.25,"y":880},{"c":"C","t":2022.5,"y":850},{"c":"C","t":2022.75,"y":830},{"c":"C","t":2023,"y":820},{"c":"C","t":2023.25,"y":815},{"c":"C","t":2023.5,"y":860},{"c":"C","t":2023.75,"y":895},{"c":"C","t":2024,"y":890},{"c":"C","t":2024.25,"y":920},{"c":"C","t":2024.5,"y":950},{"c":"C","t":2024.75,"y":970},{"c":"C","t":2025,"y":975},{"c":"C","t":2025.25,"y":970},{"c":"C","t":2025.5,"y":915},{"c":"C","t":2025.75,"y":935},{"c":"C","t":2026,"y":940},{"c":"C","t":2026.25,"y":940},{"c":"C","t":2026.5,"y":925},{"c":"C","t":2026.75,"y":910},{"c":"C","t":2027,"y":905},{"c":"C","t":2027.25,"y":870},{"c":"C","t":2027.5,"y":850},{"c":"C","t":2027.75,"y":860},{"c":"C","t":2028,"y":850},
      {"c":"E","t":2022,"y":825},{"c":"E","t":2022.25,"y":760},{"c":"E","t":2022.5,"y":815},{"c":"E","t":2022.75,"y":805},{"c":"E","t":2023,"y":815},{"c":"E","t":2023.25,"y":860},{"c":"E","t":2023.5,"y":890},{"c":"E","t":2023.75,"y":870},{"c":"E","t":2024,"y":830},{"c":"E","t":2024.25,"y":820},{"c":"E","t":2024.5,"y":805},{"c":"E","t":2024.75,"y":795},{"c":"E","t":2025,"y":775},{"c":"E","t":2025.25,"y":775},{"c":"E","t":2025.5,"y":815},{"c":"E","t":2025.75,"y":820},{"c":"E","t":2026,"y":840},{"c":"E","t":2026.25,"y":860},{"c":"E","t":2026.5,"y":800},{"c":"E","t":2026.75,"y":830},{"c":"E","t":2027,"y":900},{"c":"E","t":2027.25,"y":920},{"c":"E","t":2027.5,"y":890},{"c":"E","t":2027.75,"y":830},{"c":"E","t":2028,"y":780},
      {"c":"P","t":2022,"y":1135},{"c":"P","t":2022.25,"y":1060},{"c":"P","t":2022.5,"y":1045},{"c":"P","t":2022.75,"y":1000},{"c":"P","t":2023,"y":1020},{"c":"P","t":2023.25,"y":1000},{"c":"P","t":2023.5,"y":1040},{"c":"P","t":2023.75,"y":1130},{"c":"P","t":2024,"y":1140},{"c":"P","t":2024.25,"y":1065},{"c":"P","t":2024.5,"y":1010},{"c":"P","t":2024.75,"y":985},{"c":"P","t":2025,"y":1035},{"c":"P","t":2025.25,"y":1080},{"c":"P","t":2025.5,"y":960},{"c":"P","t":2025.75,"y":950},{"c":"P","t":2026,"y":990},{"c":"P","t":2026.25,"y":1035},{"c":"P","t":2026.5,"y":1045},{"c":"P","t":2026.75,"y":1050},{"c":"P","t":2027,"y":1035},{"c":"P","t":2027.25,"y":1045},{"c":"P","t":2027.5,"y":990},{"c":"P","t":2027.75,"y":955},{"c":"P","t":2028,"y":955}
    ],
    "ED": [
      {"c":"V","t":2022,"y":1215},{"c":"V","t":2022.25,"y":1155},{"c":"V","t":2022.5,"y":1135},{"c":"V","t":2022.75,"y":1080},{"c":"V","t":2023,"y":1110},{"c":"V","t":2023.25,"y":1175},{"c":"V","t":2023.5,"y":1155},{"c":"V","t":2023.75,"y":1185},{"c":"V","t":2024,"y":1085},{"c":"V","t":2024.25,"y":1050},{"c":"V","t":2024.5,"y":1030},{"c":"V","t":2024.75,"y":1010},{"c":"V","t":2025,"y":1050},{"c":"V","t":2025.25,"y":1025},{"c":"V","t":2025.5,"y":1000},{"c":"V","t":2025.75,"y":1040},{"c":"V","t":2026,"y":1035},{"c":"V","t":2026.25,"y":1060},{"c":"V","t":2026.5,"y":1025},{"c":"V","t":2026.75,"y":1005},{"c":"V","t":2027,"y":1015},{"c":"V","t":2027.25,"y":1000},{"c":"V","t":2027.5,"y":1030},{"c":"V","t":2027.75,"y":975},{"c":"V","t":2028,"y":965},
      {"c":"C","t":2022,"y":975},{"c":"C","t":2022.25,"y":1015},{"c":"C","t":2022.5,"y":1005},{"c":"C","t":2022.75,"y":1020},{"c":"C","t":2023,"y":970},{"c":"C","t":2023.25,"y":995},{"c":"C","t":2023.5,"y":980},{"c":"C","t":2023.75,"y":970},{"c":"C","t":2024,"y":960},{"c":"C","t":2024.25,"y":985},{"c":"C","t":2024.5,"y":975},{"c":"C","t":2024.75,"y":940},{"c":"C","t":2025,"y":900},{"c":"C","t":2025.25,"y":860},{"c":"C","t":2025.5,"y":835},{"c":"C","t":2025.75,"y":845},{"c":"C","t":2026,"y":855},{"c":"C","t":2026.25,"y":865},{"c":"C","t":2026.5,"y":890},{"c":"C","t":2026.75,"y":865},{"c":"C","t":2027,"y":885},{"c":"C","t":2027.25,"y":870},{"c":"C","t":2027.5,"y":865},{"c":"C","t":2027.75,"y":845},{"c":"C","t":2028,"y":855},
      {"c":"E","t":2022,"y":800},{"c":"E","t":2022.25,"y":830},{"c":"E","t":2022.5,"y":840},{"c":"E","t":2022.75,"y":815},{"c":"E","t":2023,"y":820},{"c":"E","t":2023.25,"y":855},{"c":"E","t":2023.5,"y":865},{"c":"E","t":2023.75,"y":865},{"c":"E","t":2024,"y":875},{"c":"E","t":2024.25,"y":870},{"c":"E","t":2024.5,"y":825},{"c":"E","t":2024.75,"y":795},{"c":"E","t":2025,"y":770},{"c":"E","t":2025.25,"y":775},{"c":"E","t":2025.5,"y":785},{"c":"E","t":2025.75,"y":775},{"c":"E","t":2026,"y":745},{"c":"E","t":2026.25,"y":725},{"c":"E","t":2026.5,"y":735},{"c":"E","t":2026.75,"y":715},{"c":"E","t":2027,"y":745},{"c":"E","t":2027.25,"y":735},{"c":"E","t":2027.5,"y":715},{"c":"E","t":2027.75,"y":720},{"c":"E","t":2028,"y":725},
      {"c":"P","t":2022,"y":980},{"c":"P","t":2022.25,"y":1045},{"c":"P","t":2022.5,"y":1120},{"c":"P","t":2022.75,"y":1070},{"c":"P","t":2023,"y":975},{"c":"P","t":2023.25,"y":955},{"c":"P","t":2023.5,"y":1005},{"c":"P","t":2023.75,"y":1075},{"c":"P","t":2024,"y":1070},{"c":"P","t":2024.25,"y":1070},{"c":"P","t":2024.5,"y":1065},{"c":"P","t":2024.75,"y":1030},{"c":"P","t":2025,"y":1015},{"c":"P","t":2025.25,"y":1005},{"c":"P","t":2025.5,"y":1040},{"c":"P","t":2025.75,"y":1060},{"c":"P","t":2026,"y":1030},{"c":"P","t":2026.25,"y":930},{"c":"P","t":2026.5,"y":985},{"c":"P","t":2026.75,"y":975},{"c":"P","t":2027,"y":980},{"c":"P","t":2027.25,"y":930},{"c":"P","t":2027.5,"y":1030},{"c":"P","t":2027.75,"y":955},{"c":"P","t":2028,"y":950}
    ],
    "WA": [
      {"c":"V","t":2022,"y":1130},{"c":"V","t":2022.25,"y":1115},{"c":"V","t":2022.5,"y":1060},{"c":"V","t":2022.75,"y":1105},{"c":"V","t":2023,"y":1085},{"c":"V","t":2023.25,"y":1115},{"c":"V","t":2023.5,"y":1145},{"c":"V","t":2023.75,"y":1230},{"c":"V","t":2024,"y":1220},{"c":"V","t":2024.25,"y":1180},{"c":"V","t":2024.5,"y":1095},{"c":"V","t":2024.75,"y":1090},{"c":"V","t":2025,"y":1045},{"c":"V","t":2025.25,"y":1075},{"c":"V","t":2025.5,"y":1085},{"c":"V","t":2025.75,"y":1095},{"c":"V","t":2026,"y":1115},{"c":"V","t":2026.25,"y":1180},{"c":"V","t":2026.5,"y":1160},{"c":"V","t":2026.75,"y":1135},{"c":"V","t":2027,"y":1160},{"c":"V","t":2027.25,"y":1105},{"c":"V","t":2027.5,"y":1145},{"c":"V","t":2027.75,"y":1100},{"c":"V","t":2028,"y":1095},
      {"c":"C","t":2022,"y":965},{"c":"C","t":2022.25,"y":955},{"c":"C","t":2022.5,"y":975},{"c":"C","t":2022.75,"y":985},{"c":"C","t":2023,"y":985},{"c":"C","t":2023.25,"y":975},{"c":"C","t":2023.5,"y":965},{"c":"C","t":2023.75,"y":955},{"c":"C","t":2024,"y":955},{"c":"C","t":2024.25,"y":940},{"c":"C","t":2024.5,"y":920},{"c":"C","t":2024.75,"y":910},{"c":"C","t":2025,"y":910},{"c":"C","t":2025.25,"y":920},{"c":"C","t":2025.5,"y":930},{"c":"C","t":2025.75,"y":920},{"c":"C","t":2026,"y":910},{"c":"C","t":2026.25,"y":920},{"c":"C","t":2026.5,"y":900},{"c":"C","t":2026.75,"y":875},{"c":"C","t":2027,"y":870},{"c":"C","t":2027.25,"y":850},{"c":"C","t":2027.5,"y":860},{"c":"C","t":2027.75,"y":850},{"c":"C","t":2028,"y":830},
      {"c":"E","t":2022,"y":895},{"c":"E","t":2022.25,"y":905},{"c":"E","t":2022.5,"y":915},{"c":"E","t":2022.75,"y":905},{"c":"E","t":2023,"y":890},{"c":"E","t":2023.25,"y":840},{"c":"E","t":2023.5,"y":815},{"c":"E","t":2023.75,"y":790},{"c":"E","t":2024,"y":820},{"c":"E","t":2024.25,"y":830},{"c":"E","t":2024.5,"y":850},{"c":"E","t":2024.75,"y":860},{"c":"E","t":2025,"y":840},{"c":"E","t":2025.25,"y":830},{"c":"E","t":2025.5,"y":825},{"c":"E","t":2025.75,"y":805},{"c":"E","t":2026,"y":800},{"c":"E","t":2026.25,"y":770},{"c":"E","t":2026.5,"y":790},{"c":"E","t":2026.75,"y":810},{"c":"E","t":2027,"y":800},{"c":"E","t":2027.25,"y":735},{"c":"E","t":2027.5,"y":695},{"c":"E","t":2027.75,"y":710},{"c":"E","t":2028,"y":715},
      {"c":"P","t":2022,"y":910},{"c":"P","t":2022.25,"y":1060},{"c":"P","t":2022.5,"y":985},{"c":"P","t":2022.75,"y":985},{"c":"P","t":2023,"y":910},{"c":"P","t":2023.25,"y":960},{"c":"P","t":2023.5,"y":920},{"c":"P","t":2023.75,"y":910},{"c":"P","t":2024,"y":1000},{"c":"P","t":2024.25,"y":1110},{"c":"P","t":2024.5,"y":1130},{"c":"P","t":2024.75,"y":1100},{"c":"P","t":2025,"y":1090},{"c":"P","t":2025.25,"y":1060},{"c":"P","t":2025.5,"y":1085},{"c":"P","t":2025.75,"y":1070},{"c":"P","t":2026,"y":1100},{"c":"P","t":2026.25,"y":1140},{"c":"P","t":2026.5,"y":1080},{"c":"P","t":2026.75,"y":1095},{"c":"P","t":2027,"y":1060},{"c":"P","t":2027.25,"y":1085},{"c":"P","t":2027.5,"y":965},{"c":"P","t":2027.75,"y":1035},{"c":"P","t":2028,"y":1110}
    ],
    "WB": [
      {"c":"V","t":2022,"y":995},{"c":"V","t":2022.25,"y":995},{"c":"V","t":2022.5,"y":1035},{"c":"V","t":2022.75,"y":995},{"c":"V","t":2023,"y":990},{"c":"V","t":2023.25,"y":950},{"c":"V","t":2023.5,"y":955},{"c":"V","t":2023.75,"y":985},{"c":"V","t":2024,"y":1020},{"c":"V","t":2024.25,"y":1020},{"c":"V","t":2024.5,"y":1000},{"c":"V","t":2024.75,"y":990},{"c":"V","t":2025,"y":975},{"c":"V","t":2025.25,"y":1010},{"c":"V","t":2025.5,"y":985},{"c":"V","t":2025.75,"y":970},{"c":"V","t":2026,"y":1000},{"c":"V","t":2026.25,"y":990},{"c":"V","t":2026.5,"y":1040},{"c":"V","t":2026.75,"y":1055},{"c":"V","t":2027,"y":1030},{"c":"V","t":2027.25,"y":995},{"c":"V","t":2027.5,"y":990},{"c":"V","t":2027.75,"y":1035},{"c":"V","t":2028,"y":1040},
      {"c":"C","t":2022,"y":980},{"c":"C","t":2022.25,"y":955},{"c":"C","t":2022.5,"y":940},{"c":"C","t":2022.75,"y":880},{"c":"C","t":2023,"y":885},{"c":"C","t":2023.25,"y":895},{"c":"C","t":2023.5,"y":840},{"c":"C","t":2023.75,"y":815},{"c":"C","t":2024,"y":820},{"c":"C","t":2024.25,"y":820},{"c":"C","t":2024.5,"y":865},{"c":"C","t":2024.75,"y":855},{"c":"C","t":2025,"y":840},{"c":"C","t":2025.25,"y":855},{"c":"C","t":2025.5,"y":860},{"c":"C","t":2025.75,"y":840},{"c":"C","t":2026,"y":855},{"c":"C","t":2026.25,"y":835},{"c":"C","t":2026.5,"y":815},{"c":"C","t":2026.75,"y":775},{"c":"C","t":2027,"y":720},{"c":"C","t":2027.25,"y":765},{"c":"C","t":2027.5,"y":775},{"c":"C","t":2027.75,"y":765},{"c":"C","t":2028,"y":725},
      {"c":"E","t":2022,"y":820},{"c":"E","t":2022.25,"y":810},{"c":"E","t":2022.5,"y":815},{"c":"E","t":2022.75,"y":820},{"c":"E","t":2023,"y":760},{"c":"E","t":2023.25,"y":750},{"c":"E","t":2023.5,"y":725},{"c":"E","t":2023.75,"y":760},{"c":"E","t":2024,"y":735},{"c":"E","t":2024.25,"y":710},{"c":"E","t":2024.5,"y":720},{"c":"E","t":2024.75,"y":740},{"c":"E","t":2025,"y":765},{"c":"E","t":2025.25,"y":750},{"c":"E","t":2025.5,"y":755},{"c":"E","t":2025.75,"y":730},{"c":"E","t":2026,"y":725},{"c":"E","t":2026.25,"y":690},{"c":"E","t":2026.5,"y":685},{"c":"E","t":2026.75,"y":685},{"c":"E","t":2027,"y":680},{"c":"E","t":2027.25,"y":700},{"c":"E","t":2027.5,"y":725},{"c":"E","t":2027.75,"y":730},{"c":"E","t":2028,"y":695},
      {"c":"P","t":2022,"y":905},{"c":"P","t":2022.25,"y":940},{"c":"P","t":2022.5,"y":965},{"c":"P","t":2022.75,"y":935},{"c":"P","t":2023,"y":920},{"c":"P","t":2023.25,"y":955},{"c":"P","t":2023.5,"y":930},{"c":"P","t":2023.75,"y":855},{"c":"P","t":2024,"y":915},{"c":"P","t":2024.25,"y":915},{"c":"P","t":2024.5,"y":895},{"c":"P","t":2024.75,"y":890},{"c":"P","t":2025,"y":925},{"c":"P","t":2025.25,"y":940},{"c":"P","t":2025.5,"y":885},{"c":"P","t":2025.75,"y":850},{"c":"P","t":2026,"y":860},{"c":"P","t":2026.25,"y":915},{"c":"P","t":2026.5,"y":950},{"c":"P","t":2026.75,"y":955},{"c":"P","t":2027,"y":985},{"c":"P","t":2027.25,"y":955},{"c":"P","t":2027.5,"y":925},{"c":"P","t":2027.75,"y":910},{"c":"P","t":2028,"y":890}
    ],
    "WC": [
      {"c":"V","t":2022,"y":1165},{"c":"V","t":2022.25,"y":1095},{"c":"V","t":2022.5,"y":1090},{"c":"V","t":2022.75,"y":1070},{"c":"V","t":2023,"y":1020},{"c":"V","t":2023.25,"y":1060},{"c":"V","t":2023.5,"y":1105},{"c":"V","t":2023.75,"y":1175},{"c":"V","t":2024,"y":1170},{"c":"V","t":2024.25,"y":1140},{"c":"V","t":2024.5,"y":1095},{"c":"V","t":2024.75,"y":1045},{"c":"V","t":2025,"y":1080},{"c":"V","t":2025.25,"y":1090},{"c":"V","t":2025.5,"y":1070},{"c":"V","t":2025.75,"y":1050},{"c":"V","t":2026,"y":1045},{"c":"V","t":2026.25,"y":1030},{"c":"V","t":2026.5,"y":1025},{"c":"V","t":2026.75,"y":1080},{"c":"V","t":2027,"y":1060},{"c":"V","t":2027.25,"y":1080},{"c":"V","t":2027.5,"y":1050},{"c":"V","t":2027.75,"y":1030},{"c":"V","t":2028,"y":1030},
      {"c":"C","t":2022,"y":970},{"c":"C","t":2022.25,"y":980},{"c":"C","t":2022.5,"y":985},{"c":"C","t":2022.75,"y":965},{"c":"C","t":2023,"y":920},{"c":"C","t":2023.25,"y":940},{"c":"C","t":2023.5,"y":895},{"c":"C","t":2023.75,"y":850},{"c":"C","t":2024,"y":820},{"c":"C","t":2024.25,"y":835},{"c":"C","t":2024.5,"y":880},{"c":"C","t":2024.75,"y":870},{"c":"C","t":2025,"y":855},{"c":"C","t":2025.25,"y":865},{"c":"C","t":2025.5,"y":915},{"c":"C","t":2025.75,"y":940},{"c":"C","t":2026,"y":870},{"c":"C","t":2026.25,"y":850},{"c":"C","t":2026.5,"y":825},{"c":"C","t":2026.75,"y":890},{"c":"C","t":2027,"y":915},{"c":"C","t":2027.25,"y":945},{"c":"C","t":2027.5,"y":915},{"c":"C","t":2027.75,"y":915},{"c":"C","t":2028,"y":855},
      {"c":"E","t":2022,"y":845},{"c":"E","t":2022.25,"y":760},{"c":"E","t":2022.5,"y":810},{"c":"E","t":2022.75,"y":840},{"c":"E","t":2023,"y":830},{"c":"E","t":2023.25,"y":800},{"c":"E","t":2023.5,"y":780},{"c":"E","t":2023.75,"y":730},{"c":"E","t":2024,"y":780},{"c":"E","t":2024.25,"y":770},{"c":"E","t":2024.5,"y":790},{"c":"E","t":2024.75,"y":800},{"c":"E","t":2025,"y":820},{"c":"E","t":2025.25,"y":815},{"c":"E","t":2025.5,"y":790},{"c":"E","t":2025.75,"y":745},{"c":"E","t":2026,"y":755},{"c":"E","t":2026.25,"y":750},{"c":"E","t":2026.5,"y":765},{"c":"E","t":2026.75,"y":820},{"c":"E","t":2027,"y":870},{"c":"E","t":2027.25,"y":830},{"c":"E","t":2027.5,"y":805},{"c":"E","t":2027.75,"y":735},{"c":"E","t":2028,"y":710},
      {"c":"P","t":2022,"y":1035},{"c":"P","t":2022.25,"y":1045},{"c":"P","t":2022.5,"y":970},{"c":"P","t":2022.75,"y":955},{"c":"P","t":2023,"y":950},{"c":"P","t":2023.25,"y":905},{"c":"P","t":2023.5,"y":930},{"c":"P","t":2023.75,"y":940},{"c":"P","t":2024,"y":970},{"c":"P","t":2024.25,"y":995},{"c":"P","t":2024.5,"y":1045},{"c":"P","t":2024.75,"y":1075},{"c":"P","t":2025,"y":1045},{"c":"P","t":2025.25,"y":1020},{"c":"P","t":2025.5,"y":980},{"c":"P","t":2025.75,"y":980},{"c":"P","t":2026,"y":990},{"c":"P","t":2026.25,"y":1015},{"c":"P","t":2026.5,"y":990},{"c":"P","t":2026.75,"y":955},{"c":"P","t":2027,"y":970},{"c":"P","t":2027.25,"y":960},{"c":"P","t":2027.5,"y":930},{"c":"P","t":2027.75,"y":880},{"c":"P","t":2028,"y":880}
    ],
    "WD": [
      {"c":"V","t":2022,"y":1055},{"c":"V","t":2022.25,"y":1020},{"c":"V","t":2022.5,"y":1035},{"c":"V","t":2022.75,"y":1050},{"c":"V","t":2023,"y":1110},{"c":"V","t":2023.25,"y":1075},{"c":"V","t":2023.5,"y":1100},{"c":"V","t":2023.75,"y":1050},{"c":"V","t":2024,"y":1015},{"c":"V","t":2024.25,"y":1005},{"c":"V","t":2024.5,"y":955},{"c":"V","t":2024.75,"y":910},{"c":"V","t":2025,"y":985},{"c":"V","t":2025.25,"y":995},{"c":"V","t":2025.5,"y":1025},{"c":"V","t":2025.75,"y":1050},{"c":"V","t":2026,"y":1045},{"c":"V","t":2026.25,"y":1085},{"c":"V","t":2026.5,"y":1105},{"c":"V","t":2026.75,"y":1090},{"c":"V","t":2027,"y":1035},{"c":"V","t":2027.25,"y":1005},{"c":"V","t":2027.5,"y":960},{"c":"V","t":2027.75,"y":990},{"c":"V","t":2028,"y":1010},
      {"c":"C","t":2022,"y":875},{"c":"C","t":2022.25,"y":865},{"c":"C","t":2022.5,"y":855},{"c":"C","t":2022.75,"y":862},{"c":"C","t":2023,"y":862},{"c":"C","t":2023.25,"y":855},{"c":"C","t":2023.5,"y":830},{"c":"C","t":2023.75,"y":830},{"c":"C","t":2024,"y":840},{"c":"C","t":2024.25,"y":830},{"c":"C","t":2024.5,"y":815},{"c":"C","t":2024.75,"y":807},{"c":"C","t":2025,"y":815},{"c":"C","t":2025.25,"y":830},{"c":"C","t":2025.5,"y":855},{"c":"C","t":2025.75,"y":860},{"c":"C","t":2026,"y":850},{"c":"C","t":2026.25,"y":830},{"c":"C","t":2026.5,"y":822},{"c":"C","t":2026.75,"y":830},{"c":"C","t":2027,"y":815},{"c":"C","t":2027.25,"y":795},{"c":"C","t":2027.5,"y":765},{"c":"C","t":2027.75,"y":770},{"c":"C","t":2028,"y":755},
      {"c":"E","t":2022,"y":790},{"c":"E","t":2022.25,"y":745},{"c":"E","t":2022.5,"y":730},{"c":"E","t":2022.75,"y":725},{"c":"E","t":2023,"y":715},{"c":"E","t":2023.25,"y":722},{"c":"E","t":2023.5,"y":715},{"c":"E","t":2023.75,"y":715},{"c":"E","t":2024,"y":715},{"c":"E","t":2024.25,"y":730},{"c":"E","t":2024.5,"y":738},{"c":"E","t":2024.75,"y":755},{"c":"E","t":2025,"y":775},{"c":"E","t":2025.25,"y":780},{"c":"E","t":2025.5,"y":785},{"c":"E","t":2025.75,"y":800},{"c":"E","t":2026,"y":775},{"c":"E","t":2026.25,"y":790},{"c":"E","t":2026.5,"y":800},{"c":"E","t":2026.75,"y":807},{"c":"E","t":2027,"y":815},{"c":"E","t":2027.25,"y":820},{"c":"E","t":2027.5,"y":822},{"c":"E","t":2027.75,"y":822},{"c":"E","t":2028,"y":818},
      {"c":"P","t":2022,"y":955},{"c":"P","t":2022.25,"y":955},{"c":"P","t":2022.5,"y":950},{"c":"P","t":2022.75,"y":960},{"c":"P","t":2023,"y":980},{"c":"P","t":2023.25,"y":990},{"c":"P","t":2023.5,"y":1005},{"c":"P","t":2023.75,"y":1015},{"c":"P","t":2024,"y":1020},{"c":"P","t":2024.25,"y":1020},{"c":"P","t":2024.5,"y":1015},{"c":"P","t":2024.75,"y":1010},{"c":"P","t":2025,"y":990},{"c":"P","t":2025.25,"y":950},{"c":"P","t":2025.5,"y":905},{"c":"P","t":2025.75,"y":880},{"c":"P","t":2026,"y":865},{"c":"P","t":2026.25,"y":835},{"c":"P","t":2026.5,"y":840},{"c":"P","t":2026.75,"y":850},{"c":"P","t":2027,"y":820},{"c":"P","t":2027.25,"y":840},{"c":"P","t":2027.5,"y":832},{"c":"P","t":2027.75,"y":855},{"c":"P","t":2028,"y":848}
    ]
  },
  "concat": [
    {"data": {"name": "SA"}, "title": "South - Type A", "width": 900, "height": 612, "mark": "line",
     "encoding": {"x": {"field": "t", "type": "quantitative", "scale": {"domain": [2021.7, 2028.3], "nice": false, "zero": false}, "axis": {"values": [2022, 2023, 2024, 2025, 2026, 2027, 2028], "format": "d"}},
      "y": {"field": "y", "type": "quantitative", "scale": {"domain": [661, 1216], "nice": false, "zero": false}, "axis": {"values": [700, 800, 900, 1000, 1100, 1200], "format": "d"}},
      "color": {"field": "c", "type": "nominal", "scale": {"domain": ["V", "C", "E", "P"], "range": ["#2a2eec", "#fa7c17", "#328c06", "#c10c90"]}, "legend": {"title": null, "orient": "top-right", "labelExpr": "datum.value == 'V' ? 'Venezuela' : datum.value == 'C' ? 'Colombia' : datum.value == 'E' ? 'Ecuador' : 'Panama'"}}}},
    {"data": {"name": "SB"}, "title": "South - Type B", "width": 900, "height": 612, "mark": "line",
     "encoding": {"x": {"field": "t", "type": "quantitative", "scale": {"domain": [2021.7, 2028.3], "nice": false, "zero": false}, "axis": {"values": [2022, 2023, 2024, 2025, 2026, 2027, 2028], "format": "d"}},
      "y": {"field": "y", "type": "quantitative", "scale": {"domain": [597, 1074], "nice": false, "zero": false}, "axis": {"values": [600, 700, 800, 900, 1000], "format": "d"}},
      "color": {"field": "c", "type": "nominal", "scale": {"domain": ["V", "C", "E", "P"], "range": ["#2a2eec", "#fa7c17", "#328c06", "#c10c90"]}, "legend": {"title": null, "orient": "top-right", "labelExpr": "datum.value == 'V' ? 'Venezuela' : datum.value == 'C' ? 'Colombia' : datum.value == 'E' ? 'Ecuador' : 'Panama'"}}}},
    {"data": {"name": "SC"}, "title": "South - Type C", "width": 900, "height": 612, "mark": "line",
     "encoding": {"x": {"field": "t", "type": "quantitative", "scale": {"domain": [2021.7, 2028.3], "nice": false, "zero": false}, "axis": {"values": [2022, 2023, 2024, 2025, 2026, 2027, 2028], "format": "d"}},
      "y": {"field": "y", "type": "quantitative", "scale": {"domain": [607, 1173], "nice": false, "zero": false}, "axis": {"values": [700, 800, 900, 1000, 1100], "format": "d"}},
      "color": {"field": "c", "type": "nominal", "scale": {"domain": ["V", "C", "E", "P"], "range": ["#2a2eec", "#fa7c17", "#328c06", "#c10c90"]}, "legend": {"title": null, "orient": "top-right", "labelExpr": "datum.value == 'V' ? 'Venezuela' : datum.value == 'C' ? 'Colombia' : datum.value == 'E' ? 'Ecuador' : 'Panama'"}}}},
    {"data": {"name": "SD"}, "title": "South - Type D", "width": 900, "height": 612, "mark": "line",
     "encoding": {"x": {"field": "t", "type": "quantitative", "scale": {"domain": [2021.7, 2028.3], "nice": false, "zero": false}, "axis": {"values": [2022, 2023, 2024, 2025, 2026, 2027, 2028], "format": "d"}},
      "y": {"field": "y", "type": "quantitative", "scale": {"domain": [661, 1178], "nice": false, "zero": false}, "axis": {"values": [700, 800, 900, 1000, 1100], "format": "d"}},
      "color": {"field": "c", "type": "nominal", "scale": {"domain": ["V", "C", "E", "P"], "range": ["#2a2eec", "#fa7c17", "#328c06", "#c10c90"]}, "legend": {"title": null, "orient": "none", "legendX": 371, "legendY": 17, "labelExpr": "datum.value == 'V' ? 'Venezuela' : datum.value == 'C' ? 'Colombia' : datum.value == 'E' ? 'Ecuador' : 'Panama'"}}}},
    {"data": {"name": "NA"}, "title": "North - Type A", "width": 900, "height": 612, "mark": "line",
     "encoding": {"x": {"field": "t", "type": "quantitative", "scale": {"domain": [2021.7, 2028.3], "nice": false, "zero": false}, "axis": {"values": [2022, 2023, 2024, 2025, 2026, 2027, 2028], "format": "d"}},
      "y": {"field": "y", "type": "quantitative", "scale": {"domain": [827, 1506], "nice": false, "zero": false}, "axis": {"values": [900, 1000, 1100, 1200, 1300, 1400, 1500], "format": "d"}},
      "color": {"field": "c", "type": "nominal", "scale": {"domain": ["V", "C", "E", "P"], "range": ["#2a2eec", "#fa7c17", "#328c06", "#c10c90"]}, "legend": {"title": null, "orient": "top-right", "labelExpr": "datum.value == 'V' ? 'Venezuela' : datum.value == 'C' ? 'Colombia' : datum.value == 'E' ? 'Ecuador' : 'Panama'"}}}},
    {"data": {"name": "NB"}, "title": "North - Type B", "width": 900, "height": 612, "mark": "line",
     "encoding": {"x": {"field": "t", "type": "quantitative", "scale": {"domain": [2021.7, 2028.3], "nice": false, "zero": false}, "axis": {"values": [2022, 2023, 2024, 2025, 2026, 2027, 2028], "format": "d"}},
      "y": {"field": "y", "type": "quantitative", "scale": {"domain": [780, 1340], "nice": false, "zero": false}, "axis": {"values": [800, 900, 1000, 1100, 1200, 1300], "format": "d"}},
      "color": {"field": "c", "type": "nominal", "scale": {"domain": ["V", "C", "E", "P"], "range": ["#2a2eec", "#fa7c17", "#328c06", "#c10c90"]}, "legend": {"title": null, "orient": "top-left", "labelExpr": "datum.value == 'V' ? 'Venezuela' : datum.value == 'C' ? 'Colombia' : datum.value == 'E' ? 'Ecuador' : 'Panama'"}}}},
    {"data": {"name": "NC"}, "title": "North - Type C", "width": 900, "height": 612, "mark": "line",
     "encoding": {"x": {"field": "t", "type": "quantitative", "scale": {"domain": [2021.7, 2028.3], "nice": false, "zero": false}, "axis": {"values": [2022, 2023, 2024, 2025, 2026, 2027, 2028], "format": "d"}},
      "y": {"field": "y", "type": "quantitative", "scale": {"domain": [768, 1441], "nice": false, "zero": false}, "axis": {"values": [800, 900, 1000, 1100, 1200, 1300, 1400], "format": "d"}},
      "color": {"field": "c", "type": "nominal", "scale": {"domain": ["V", "C", "E", "P"], "range": ["#2a2eec", "#fa7c17", "#328c06", "#c10c90"]}, "legend": {"title": null, "orient": "top-right", "labelExpr": "datum.value == 'V' ? 'Venezuela' : datum.value == 'C' ? 'Colombia' : datum.value == 'E' ? 'Ecuador' : 'Panama'"}}}},
    {"data": {"name": "ND"}, "title": "North - Type D", "width": 900, "height": 612, "mark": "line",
     "encoding": {"x": {"field": "t", "type": "quantitative", "scale": {"domain": [2021.7, 2028.3], "nice": false, "zero": false}, "axis": {"values": [2022, 2023, 2024, 2025, 2026, 2027, 2028], "format": "d"}},
      "y": {"field": "y", "type": "quantitative", "scale": {"domain": [762, 1357], "nice": false, "zero": false}, "axis": {"values": [800, 900, 1000, 1100, 1200, 1300], "format": "d"}},
      "color": {"field": "c", "type": "nominal", "scale": {"domain": ["V", "C", "E", "P"], "range": ["#2a2eec", "#fa7c17", "#328c06", "#c10c90"]}, "legend": {"title": null, "orient": "bottom-left", "labelExpr": "datum.value == 'V' ? 'Venezuela' : datum.value == 'C' ? 'Colombia' : datum.value == 'E' ? 'Ecuador' : 'Panama'"}}}},
    {"data": {"name": "EA"}, "title": "East - Type A", "width": 900, "height": 612, "mark": "line",
     "encoding": {"x": {"field": "t", "type": "quantitative", "scale": {"domain": [2021.7, 2028.3], "nice": false, "zero": false}, "axis": {"values": [2022, 2023, 2024, 2025, 2026, 2027, 2028], "format": "d"}},
      "y": {"field": "y", "type": "quantitative", "scale": {"domain": [800, 1354], "nice": false, "zero": false}, "axis": {"values": [800, 900, 1000, 1100, 1200, 1300], "format": "d"}},
      "color": {"field": "c", "type": "nominal", "scale": {"domain": ["V", "C", "E", "P"], "range": ["#2a2eec", "#fa7c17", "#328c06", "#c10c90"]}, "legend": {"title": null, "orient": "top-left", "labelExpr": "datum.value == 'V' ? 'Venezuela' : datum.value == 'C' ? 'Colombia' : datum.value == 'E' ? 'Ecuador' : 'Panama'"}}}},
    {"data": {"name": "EB"}, "title": "East - Type B", "width": 900, "height": 612, "mark": "line",
     "encoding": {"x": {"field": "t", "type": "quantitative", "scale": {"domain": [2021.7, 2028.3], "nice": false, "zero": false}, "axis": {"values": [2022, 2023, 2024, 2025, 2026, 2027, 2028], "format": "d"}},
      "y": {"field": "y", "type": "quantitative", "scale": {"domain": [683, 1250], "nice": false, "zero": false}, "axis": {"values": [700, 800, 900, 1000, 1100, 1200], "format": "d"}},
      "color": {"field": "c", "type": "nominal", "scale": {"domain": ["V", "C", "E", "P"], "range": ["#2a2eec", "#fa7c17", "#328c06", "#c10c90"]}, "legend": {"title": null, "orient": "top-right", "labelExpr": "datum.value == 'V' ? 'Venezuela' : datum.value == 'C' ? 'Colombia' : datum.value == 'E' ? 'Ecuador' : 'Panama'"}}}},
    {"data": {"name": "EC"}, "title": "East - Type C", "width": 900, "height": 612, "mark": "line",
     "encoding": {"x": {"field": "t", "type": "quantitative", "scale": {"domain": [2021.7, 2028.3], "nice": false, "zero": false}, "axis": {"values": [2022, 2023, 2024, 2025, 2026, 2027, 2028], "format": "d"}},
      "y": {"field": "y", "type": "quantitative", "scale": {"domain": [699, 1290], "nice": false, "zero": false}, "axis": {"values": [700, 800, 900, 1000, 1100, 1200], "format": "d"}},
      "color": {"field": "c", "type": "nominal", "scale": {"domain": ["V", "C", "E", "P"], "range": ["#2a2eec", "#fa7c17", "#328c06", "#c10c90"]}, "legend": {"title": null, "orient": "top-right", "labelExpr": "datum.value == 'V' ? 'Venezuela' : datum.value == 'C' ? 'Colombia' : datum.value == 'E' ? 'Ecuador' : 'Panama'"}}}},
    {"data": {"name": "ED"}, "title": "East - Type D", "width": 900, "height": 612, "mark": "line",
     "encoding": {"x": {"field": "t", "type": "quantitative", "scale": {"domain": [2021.7, 2028.3], "nice": false, "zero": false}, "axis": {"values": [2022, 2023, 2024, 2025, 2026, 2027, 2028], "format": "d"}},
      "y": {"field": "y", "type": "quantitative", "scale": {"domain": [666, 1269], "nice": false, "zero": false}, "axis": {"values": [700, 800, 900, 1000, 1100, 1200], "format": "d"}},
      "color": {"field": "c", "type": "nominal", "scale": {"domain": ["V", "C", "E", "P"], "range": ["#2a2eec", "#fa7c17", "#328c06", "#c10c90"]}, "legend": {"title": null, "orient": "top-right", "labelExpr": "datum.value == 'V' ? 'Venezuela' : datum.value == 'C' ? 'Colombia' : datum.value == 'E' ? 'Ecuador' : 'Panama'"}}}},
    {"data": {"name": "WA"}, "title": "West - Type A", "width": 900, "height": 612, "mark": "line",
     "encoding": {"x": {"field": "t", "type": "quantitative", "scale": {"domain": [2021.7, 2028.3], "nice": false, "zero": false}, "axis": {"values": [2022, 2023, 2024, 2025, 2026, 2027, 2028], "format": "d"}},
      "y": {"field": "y", "type": "quantitative", "scale": {"domain": [632, 1305], "nice": false, "zero": false}, "axis": {"values": [700, 800, 900, 1000, 1100, 1200, 1300], "format": "d"}},
      "color": {"field": "c", "type": "nominal", "scale": {"domain": ["V", "C", "E", "P"], "range": ["#2a2eec", "#fa7c17", "#328c06", "#c10c90"]}, "legend": {"title": null, "orient": "bottom-left", "labelExpr": "datum.value == 'V' ? 'Venezuela' : datum.value == 'C' ? 'Colombia' : datum.value == 'E' ? 'Ecuador' : 'Panama'"}}}},
    {"data": {"name": "WB"}, "title": "West - Type B", "width": 900, "height": 612, "mark": "line",
     "encoding": {"x": {"field": "t", "type": "quantitative", "scale": {"domain": [2021.7, 2028.3], "nice": false, "zero": false}, "axis": {"values": [2022, 2023, 2024, 2025, 2026, 2027, 2028], "format": "d"}},
      "y": {"field": "y", "type": "quantitative", "scale": {"domain": [615, 1128], "nice": false, "zero": false}, "axis": {"values": [700, 800, 900, 1000, 1100], "format": "d"}},
      "color": {"field": "c", "type": "nominal", "scale": {"domain": ["V", "C", "E", "P"], "range": ["#2a2eec", "#fa7c17", "#328c06", "#c10c90"]}, "legend": {"title": null, "orient": "bottom-left", "labelExpr": "datum.value == 'V' ? 'Venezuela' : datum.value == 'C' ? 'Colombia' : datum.value == 'E' ? 'Ecuador' : 'Panama'"}}}},
    {"data": {"name": "WC"}, "title": "West - Type C", "width": 900, "height": 612, "mark": "line",
     "encoding": {"x": {"field": "t", "type": "quantitative", "scale": {"domain": [2021.7, 2028.3], "nice": false, "zero": false}, "axis": {"values": [2022, 2023, 2024, 2025, 2026, 2027, 2028], "format": "d"}},
      "y": {"field": "y", "type": "quantitative", "scale": {"domain": [667, 1243], "nice": false, "zero": false}, "axis": {"values": [700, 800, 900, 1000, 1100, 1200], "format": "d"}},
      "color": {"field": "c", "type": "nominal", "scale": {"domain": ["V", "C", "E", "P"], "range": ["#2a2eec", "#fa7c17", "#328c06", "#c10c90"]}, "legend": {"title": null, "orient": "top-right", "labelExpr": "datum.value == 'V' ? 'Venezuela' : datum.value == 'C' ? 'Colombia' : datum.value == 'E' ? 'Ecuador' : 'Panama'"}}}},
    {"data": {"name": "WD"}, "title": "West - Type D", "width": 900, "height": 612, "mark": "line",
     "encoding": {"x": {"field": "t", "type": "quantitative", "scale": {"domain": [2021.7, 2028.3], "nice": false, "zero": false}, "axis": {"values": [2022, 2023, 2024, 2025, 2026, 2027, 2028], "format": "d"}},
      "y": {"field": "y", "type": "quantitative", "scale": {"domain": [663, 1161], "nice": false, "zero": false}, "axis": {"values": [700, 800, 900, 1000, 1100], "format": "d"}},
      "color": {"field": "c", "type": "nominal", "scale": {"domain": ["V", "C", "E", "P"], "range": ["#2a2eec", "#fa7c17", "#328c06", "#c10c90"]}, "legend": {"title": null, "orient": "none", "legendX": 371, "legendY": 17, "labelExpr": "datum.value == 'V' ? 'Venezuela' : datum.value == 'C' ? 'Colombia' : datum.value == 'E' ? 'Ecuador' : 'Panama'"}}}}
  ]
}
